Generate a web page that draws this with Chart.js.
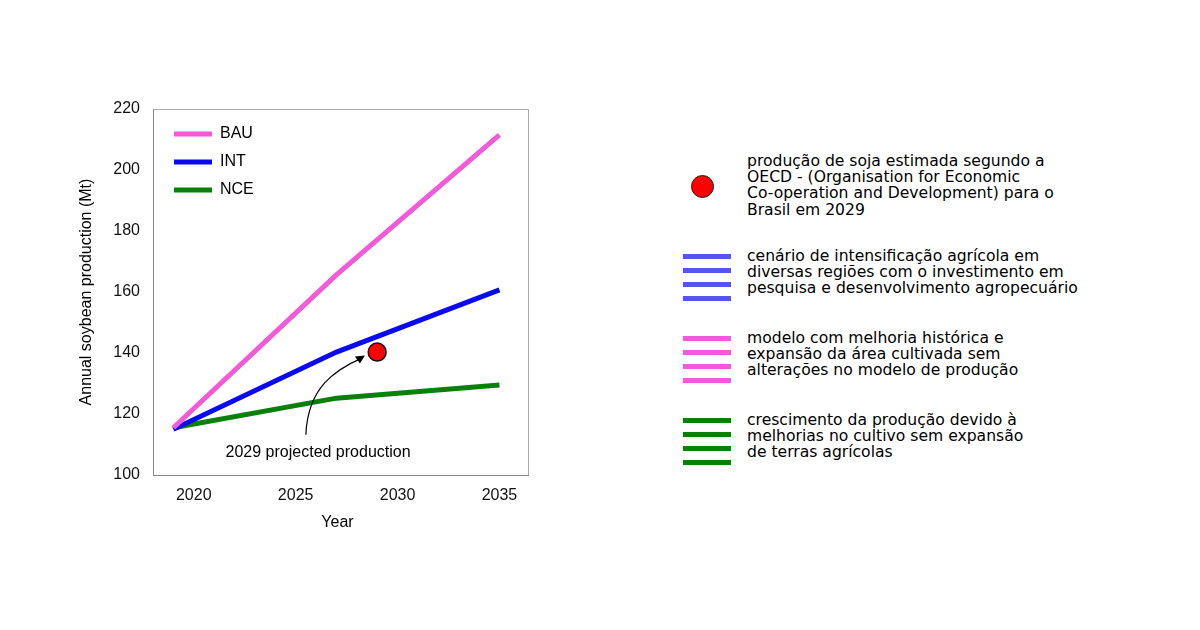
<!DOCTYPE html>
<html><head><meta charset="utf-8">
<script src="https://cdn.jsdelivr.net/npm/chart.js@4"></script>
<style>
body{margin:0;background:#fff;width:1200px;height:630px;position:relative;overflow:hidden}
#wrap{position:absolute;left:0;top:0;width:600px;height:630px}
.lg{position:absolute;left:747px;font-family:"DejaVu Sans";font-size:15.6px;line-height:16.2px;color:#000}
.bar{position:absolute;left:683px;width:48px;height:5px}
.dot{position:absolute;left:691px;top:175px;width:21px;height:21px;border-radius:50%;background:#f00;border:1.5px solid #222}
</style></head><body>
<div id="wrap"><canvas id="c" width="600" height="630"></canvas></div>
<div class="dot"></div>
<div class="lg" style="top:153px">produção de soja estimada segundo a<br>OECD - (Organisation for Economic<br>Co-operation and Development) para o<br>Brasil em 2029</div>
<div class="lg" style="top:248px">cenário de intensificação agrícola em<br>diversas regiões com o investimento em<br>pesquisa e desenvolvimento agropecuário</div>
<div class="lg" style="top:330px">modelo com melhoria histórica e<br>expansão da área cultivada sem<br>alterações no modelo de produção</div>
<div class="lg" style="top:412px">crescimento da produção devido à<br>melhorias no cultivo sem expansão<br>de terras agrícolas</div>
<script>
const years=[2019,2027,2035];
const BAU=[115.5,165.6,211.5];
const INT=[115,140.3,160.7];
const NCE=[115.5,125.2,129.5];
const point=[{x:2029,y:140.3}];
const xTicks=[2020,2025,2030,2035];
const seriesNames=['BAU','INT','NCE'];
const colors=['#f25ad8','#0a0af0','#0a800a'];
[[ '#5555f0',254],['#f25ad8',336],['#0a800a',418]].forEach(([c,t])=>{for(let i=0;i<4;i++){const d=document.createElement('div');d.className='bar';d.style.background=c;d.style.top=(t+i*14)+'px';document.body.appendChild(d);}});
const mk=(arr)=>years.map((x,i)=>({x,y:arr[i]}));
const extras={id:'extras',afterDatasetsDraw(ch){
 const g=ch.ctx,xs=ch.scales.x,ys=ch.scales.y,a=ch.chartArea;
 g.save();
 g.strokeStyle='#aaa';g.lineWidth=1;g.beginPath();g.moveTo(a.left,a.top+0.5);g.lineTo(a.right+0.5,a.top+0.5);g.lineTo(a.right+0.5,a.bottom);g.stroke();
 g.font='16px "Liberation Sans"';g.textBaseline='middle';
 seriesNames.forEach((n,i)=>{const y=a.top+25+i*28;g.strokeStyle=colors[i];g.lineWidth=5;g.beginPath();g.moveTo(a.left+21,y);g.lineTo(a.left+59,y);g.stroke();g.fillStyle='#000';g.fillText(n,a.left+67,y);});
 g.textAlign='center';g.fillText('2029 projected production',xs.getPixelForValue(2026.1),ys.getPixelForValue(107.5));
 g.fillText('Year',(a.left+a.right)/2-3,523);
 g.save();g.translate(87,(a.top+a.bottom)/2);g.rotate(-Math.PI/2);g.fillText('Annual soybean production (Mt)',0,0);g.restore();
 const sx=xs.getPixelForValue(2025.5),sy=ys.getPixelForValue(113.2),ex=xs.getPixelForValue(2028.3),ey=ys.getPixelForValue(138.5);
 g.strokeStyle='#000';g.lineWidth=1.2;g.beginPath();g.moveTo(sx,sy);g.bezierCurveTo(sx+2,ey+30,ex-28,ey+12,ex,ey);g.stroke();
 g.fillStyle='#000';g.beginPath();g.moveTo(ex+2,ey-2);g.lineTo(ex-8,ey-1);g.lineTo(ex-3,ey+6);g.closePath();g.fill();
 g.restore();}};
new Chart(document.getElementById('c'),{type:'scatter',
data:{datasets:[
 {data:mk(BAU),showLine:true,borderColor:colors[0],borderWidth:5,pointRadius:0},
 {data:mk(INT),showLine:true,borderColor:colors[1],borderWidth:5,pointRadius:0},
 {data:mk(NCE),showLine:true,borderColor:colors[2],borderWidth:5,pointRadius:0},
 {data:point,backgroundColor:'#f00',borderColor:'#111',borderWidth:1.5,pointRadius:9}
]},
options:{responsive:false,animation:false,devicePixelRatio:1,
 layout:{padding:{top:109,right:72,left:0,bottom:0}},
 plugins:{legend:{display:false},tooltip:{enabled:false}},
 scales:{
  x:{type:'linear',min:2018,max:2036.4,afterBuildTicks:s=>{s.ticks=xTicks.map(v=>({value:v}));},
   afterFit:s=>{s.height=155;},
   grid:{display:false,drawTicks:true,tickLength:7,tickColor:'#888'},border:{color:'#888'},
   ticks:{color:'#111',font:{family:'Liberation Sans',size:16},padding:4,maxRotation:0,callback:v=>String(v)}},
  y:{min:100,max:220,afterFit:s=>{s.width=153;},
   grid:{display:false,drawTicks:true,tickLength:7,tickColor:'#888'},border:{color:'#888'},
   ticks:{stepSize:20,color:'#111',font:{family:'Liberation Sans',size:16},padding:6}}
 }},plugins:[extras]});
</script>
</body></html>
